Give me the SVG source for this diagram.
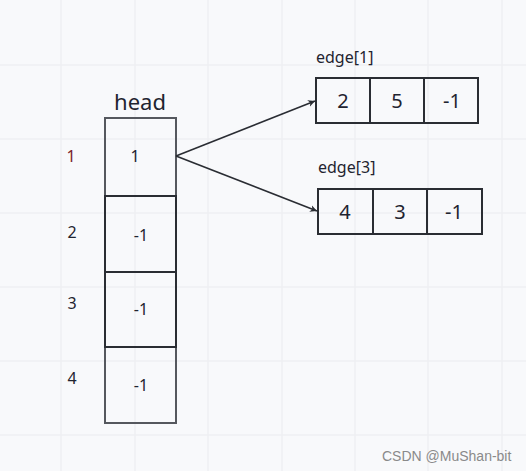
<svg xmlns="http://www.w3.org/2000/svg" width="526" height="471" viewBox="0 0 526 471">
<defs>
<style>
.grid{stroke:#eef0f3;stroke-width:1.5}
.cell{fill:none;stroke:#2a2d33;stroke-width:2}
.cellg{fill:none;stroke:#55585e;stroke-width:2}
.t{font-family:"Noto Sans","Open Sans",sans-serif;fill:#1f2430}
.c{stroke:#2a2d33;stroke-width:1.6;fill:none}
</style>
<marker id="ah" viewBox="0 0 10 10" refX="10" refY="5" markerWidth="7" markerHeight="7" orient="auto" markerUnits="userSpaceOnUse">
<path d="M0,0 L10,5 L0,10 L3,5 z" fill="#2a2d33"/>
</marker>
</defs>
<rect width="526" height="471" fill="#f8f9fb"/>
<g id="grid">
<path class="grid" d="M61,0V471M135,0V471M208,0V471M282,0V471M355,0V471M428,0V471M502,0V471M0,65H526M0,139H526M0,213H526M0,287H526M0,361H526M0,435H526"/>
</g>
<g id="head">
<text class="t" x="140" y="110" font-size="22" text-anchor="middle">head</text>
<rect class="cellg" x="105" y="118" width="71" height="78"/>
<rect class="cellg" x="105" y="347" width="71" height="76"/>
<rect class="cell" x="105" y="196" width="71" height="76"/>
<rect class="cell" x="105" y="272" width="71" height="75"/>
<text class="t" x="135" y="162" font-size="16" text-anchor="middle">1</text>
<text class="t" x="141" y="241" font-size="16" text-anchor="middle">-1</text>
<text class="t" x="141" y="315" font-size="16" text-anchor="middle">-1</text>
<text class="t" x="141" y="391" font-size="16" text-anchor="middle">-1</text>
<text class="t" x="71" y="162" font-size="16" text-anchor="middle" style="fill:#7a1f2a">1</text>
<text class="t" x="72" y="238" font-size="16" text-anchor="middle">2</text>
<text class="t" x="72" y="309" font-size="16" text-anchor="middle">3</text>
<text class="t" x="72" y="384" font-size="16" text-anchor="middle">4</text>
</g>
<g id="edge1">
<text class="t" x="316" y="63" font-size="16">edge[1]</text>
<rect class="cell" x="316" y="78" width="162" height="45"/>
<path class="cell" d="M370,78V123M424,78V123"/>
<text class="t" x="343" y="108" font-size="20" text-anchor="middle">2</text>
<text class="t" x="397" y="108" font-size="20" text-anchor="middle">5</text>
<text class="t" x="452" y="108" font-size="20" text-anchor="middle">-1</text>
</g>
<g id="edge3">
<text class="t" x="318" y="173" font-size="16">edge[3]</text>
<rect class="cell" x="318" y="189" width="164" height="45"/>
<path class="cell" d="M373,189V234M427,189V234"/>
<text class="t" x="345" y="219" font-size="20" text-anchor="middle">4</text>
<text class="t" x="400" y="219" font-size="20" text-anchor="middle">3</text>
<text class="t" x="454" y="219" font-size="20" text-anchor="middle">-1</text>
</g>
<g id="connectors">
<line class="c" x1="176" y1="156" x2="315" y2="101" marker-end="url(#ah)"/>
<line class="c" x1="176" y1="156" x2="317" y2="211" marker-end="url(#ah)"/>
</g>
<text x="382" y="461" font-family="'Liberation Sans',Arial,sans-serif" font-size="14" fill="#8a8a8a">CSDN @MuShan-bit</text>
</svg>
